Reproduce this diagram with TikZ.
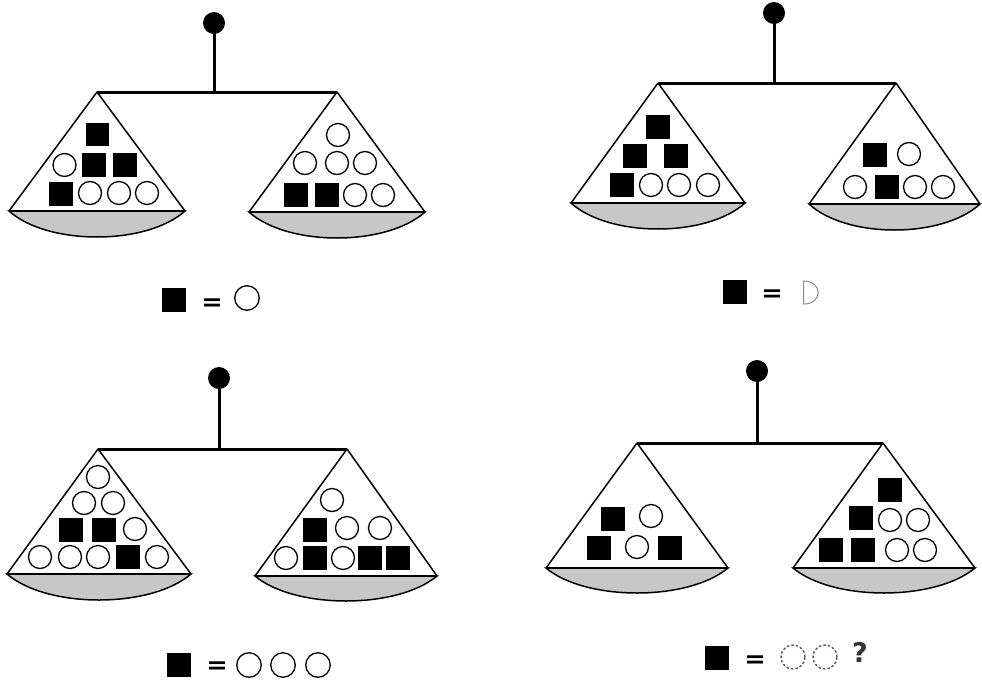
\documentclass[tikz,border=0pt]{standalone}
\usepackage{fontspec}
\setmainfont{DejaVu Sans}
\usepackage{graphicx}
\begin{document}
\begin{tikzpicture}[x=1pt,y=-1pt,
  blk/.style={rectangle, fill=black, draw=none, minimum size=23.5pt, inner sep=0pt},
  ring/.style={circle, draw=black, line width=1.3pt, minimum size=23pt, inner sep=0pt},
  dring/.style={circle, draw=black!65, line width=1.4pt, dash pattern=on 2.5pt off 2pt, minimum size=24pt, inner sep=0pt},
  ball/.style={circle, fill=black, minimum size=22pt, inner sep=0pt},
  beamline/.style={line width=3pt},
  panline/.style={line width=1.5pt, line join=round},
  bowl/.style={fill=black!22, draw=black, line width=1.5pt},
  eqsign/.style={inner sep=0pt, font=\bfseries},
  qmark/.style={inner sep=0pt, font=\fontsize{27}{27}\selectfont\bfseries, text=black!80},
]
\useasboundingbox (0,0) rectangle (982,681);
\fill[white] (0,0) rectangle (982,681);

% pan: apex x, apex y, base y, left x, right x, bottom y
\newcommand\mypan[6]{%
  \draw[bowl] (#4,#3) .. controls ({#4+0.22*(#5-#4)},{#3+1.333*(#6-#3)}) and ({#5-0.22*(#5-#4)},{#3+1.333*(#6-#3)}) .. (#5,#3) -- cycle;
  \draw[panline] (#4,#3) -- (#1,#2) -- (#5,#3);
  \draw[line width=2pt] (#4,#3) -- (#5,#3);
}
\newcommand\myeq{\scalebox{0.95}[0.9]{\fontsize{27}{27}\selectfont\bfseries =}}

% ===== Panel 1 =====
\node[ball] (b1) at (214,23) {};
\coordinate (m1) at (214,92);
\coordinate (l1) at (97,92);
\coordinate (r1) at (337,92);
\draw[beamline] (b1.center) -- (m1);
\mypan{97}{92}{211}{9}{185}{237}
\mypan{337}{92}{212}{249}{425}{238}
\draw[beamline] (l1) -- (r1);
\node[blk] at (97.5,134.5) {};
\node[ring] at (64.5,165) {};
\node[blk] at (94,165) {};
\node[blk] at (125,165) {};
\node[blk] at (61,194) {};
\node[ring] at (90,193) {};
\node[ring] at (119,193) {};
\node[ring] at (147,193) {};
\node[ring] at (338,135) {};
\node[ring] at (305,163) {};
\node[ring] at (337,163) {};
\node[ring] at (365,163) {};
\node[blk] at (296,195) {};
\node[blk] at (327,195) {};
\node[ring] at (355,195) {};
\node[ring] at (383,195) {};
\node[blk] (e1s) at (174,300) {};
\node[eqsign] (e1e) at (212,305) {\myeq};
\node[ring, minimum size=24.5pt] (e1c) at (247,298) {};

% ===== Panel 2 =====
\node[ball] (b2) at (774,13) {};
\coordinate (m2) at (774,83);
\coordinate (l2) at (658,83);
\coordinate (r2) at (896,83);
\draw[beamline] (b2.center) -- (m2);
\mypan{658}{83}{203}{571}{745}{229}
\mypan{896}{83}{204}{809}{980}{230}
\draw[beamline] (l2) -- (r2);
\node[blk] at (658,127) {};
\node[blk] at (635,156) {};
\node[blk] at (676,156) {};
\node[blk] at (622,185) {};
\node[ring] at (651,185) {};
\node[ring] at (679,185) {};
\node[ring] at (708,185) {};
\node[blk] at (875,155) {};
\node[ring] at (909,154) {};
\node[ring] at (855,187) {};
\node[blk] at (887,187) {};
\node[ring] at (915,187) {};
\node[ring] at (943,187) {};
\node[blk] (e2s) at (735,292) {};
\node[eqsign] (e2e) at (772,296) {\myeq};
\draw[black!45, line width=1pt] (803.5,304) -- (803.5,281) .. controls (823,281) and (823,304) .. cycle;

% ===== Panel 3 =====
\node[ball] (b3) at (219,378) {};
\coordinate (m3) at (219,449);
\coordinate (l3) at (98,449);
\coordinate (r3) at (347,449);
\draw[beamline] (b3.center) -- (m3);
\mypan{98}{449}{574}{7}{191}{600}
\mypan{347}{449}{576}{255}{437}{601}
\draw[beamline] (l3) -- (r3);
\node[ring] at (98,477) {};
\node[ring] at (84,503) {};
\node[ring] at (113,503) {};
\node[blk] at (71,530) {};
\node[blk] at (104,530) {};
\node[ring] at (135,529) {};
\node[ring] at (40,557) {};
\node[ring] at (70,557) {};
\node[ring] at (98,557) {};
\node[blk] at (128,557) {};
\node[ring] at (157,557) {};
\node[ring] at (332,500) {};
\node[blk] at (315,530) {};
\node[ring] at (347,528) {};
\node[ring] at (380,528) {};
\node[ring] at (286,558) {};
\node[blk] at (315,558) {};
\node[ring] at (343,558) {};
\node[blk] at (370,558) {};
\node[blk] at (398,558) {};
\node[blk] (e3s) at (179,665) {};
\node[eqsign] (e3e) at (217,668) {\myeq};
\node[ring, minimum size=24.5pt] (e3c1) at (249,665) {};
\node[ring, minimum size=24.5pt] (e3c2) at (283,665) {};
\node[ring, minimum size=24.5pt] (e3c3) at (318,665) {};

% ===== Panel 4 =====
\node[ball] (b4) at (757,371) {};
\coordinate (m4) at (757,443);
\coordinate (l4) at (637,443);
\coordinate (r4) at (883,443);
\draw[beamline] (b4.center) -- (m4);
\mypan{637}{443}{568}{546}{728}{593}
\mypan{883}{443}{568}{793}{975}{593}
\draw[beamline] (l4) -- (r4);
\node[blk] at (613,519) {};
\node[ring] at (651,516) {};
\node[blk] at (599,548) {};
\node[ring] at (637,547) {};
\node[blk] at (670,548) {};
\node[blk] at (890,490) {};
\node[blk] at (861,518) {};
\node[ring] at (890,520) {};
\node[ring] at (918,520) {};
\node[blk] at (831,550) {};
\node[blk] at (863,550) {};
\node[ring] at (897,550) {};
\node[ring] at (925,550) {};
\node[blk] (e4s) at (717,658) {};
\node[eqsign] (e4e) at (755,662) {\myeq};
\node[dring] (e4c1) at (793,657) {};
\node[dring] (e4c2) at (825,657) {};
\node[qmark] (e4q) at (860,652) {?};
\end{tikzpicture}
\end{document}
